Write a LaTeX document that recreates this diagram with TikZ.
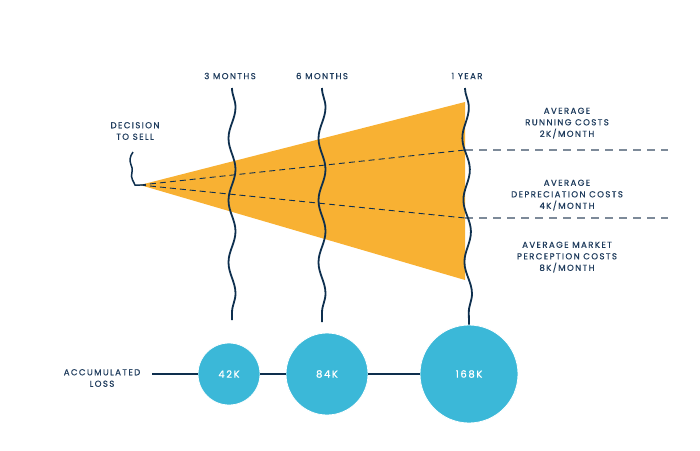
\documentclass[tikz,border=0pt]{standalone}
\usepackage{fontspec}
\setmainfont{Poppins}
\newfontfamily\spaced[LetterSpace=16,FakeBold=0.6]{Poppins}
\usetikzlibrary{decorations.pathmorphing}
\usetikzlibrary{positioning}

\definecolor{fanorange}{HTML}{F8B133}
\definecolor{navy}{HTML}{0E2F4E}
\definecolor{lossblue}{HTML}{3BB8D8}
\definecolor{dashgrey}{HTML}{7D8A99}
\definecolor{labelnavy}{HTML}{1E3B5C}

\begin{document}
\begin{tikzpicture}[x=1pt,y=-1pt]
	\tikzstyle{lbl}=[text=labelnavy, font=\spaced\fontsize{8.6}{11.5}\selectfont, align=center, inner sep=0pt]
	\tikzstyle{wave}=[draw=navy, line width=1.8pt, decorate, decoration={snake, segment length=62pt, amplitude=3.5pt}]
	\tikzstyle{loss}=[circle, fill=lossblue, draw=white, line width=0.8pt, text=white, inner sep=0pt, font=\spaced\fontsize{10}{12}\selectfont]
	\tikzstyle{link}=[draw=navy, line width=2.5pt]
	\useasboundingbox (0,0) rectangle (700,450);

	% fan
	\coordinate (apex) at (140,185);
	\coordinate (fantop) at (465,102);
	\coordinate (fanbot) at (465,280);
	\coordinate (run) at (465,150);
	\coordinate (dep) at (465,218);
	\fill[fanorange] (apex) -- (fantop) -- (fanbot) -- cycle;
	\draw[navy, dash pattern=on 6pt off 4pt, line width=0.9pt] (apex) -- (run);
	\draw[navy, dash pattern=on 6pt off 4pt, line width=0.9pt] (apex) -- (dep);
	\draw[dashgrey, dash pattern=on 8pt off 6pt, line width=1.2pt] (run) -- (668,150);
	\draw[dashgrey, dash pattern=on 8pt off 6pt, line width=1.2pt] (dep) -- (668,218);

	% time labels
	\node[lbl] (m3) at (230,76) {3 MONTHS};
	\node[lbl] (m6) at (322,76) {6 MONTHS};
	\node[lbl] (y1) at (467,76) {1 YEAR};
	\node[lbl] (sell) at (135,131) {DECISION\\TO SELL};

	% cost labels
	\node[lbl] (running) at (567,123) {AVERAGE\\RUNNING COSTS\\2K/MONTH};
	\node[lbl] (deprec) at (567,195) {AVERAGE\\DEPRECIATION COSTS\\4K/MONTH};
	\node[lbl] (market) at (567,257) {AVERAGE MARKET\\PERCEPTION COSTS\\8K/MONTH};

	% accumulated loss
	\node[lbl] (acc) at (102,378) {ACCUMULATED\\LOSS};
	\node[loss, minimum size=62pt] (c42) at (229,374) {42K};
	\node[loss, minimum size=82pt] (c84) at (327,374) {84K};
	\node[loss, minimum size=98pt] (c168) at (469,374) {168K};
	\draw[link] (152,374) -- (c42);
	\draw[link] (c42) -- (c84);
	\draw[link] (c84) -- (c168);

	% time lines
	\draw[wave] (232,88) -- (232,320);
	\draw[wave] (322,88) -- (322,322);
	\draw[wave] (465,88) -- (c168.north);
	\draw[navy, line width=1.5pt] (133,152) .. controls (126,162) and (134,166) .. (132,172)
		.. controls (130,178) and (134,182) .. (135,185) -- (apex);
\end{tikzpicture}
\end{document}
